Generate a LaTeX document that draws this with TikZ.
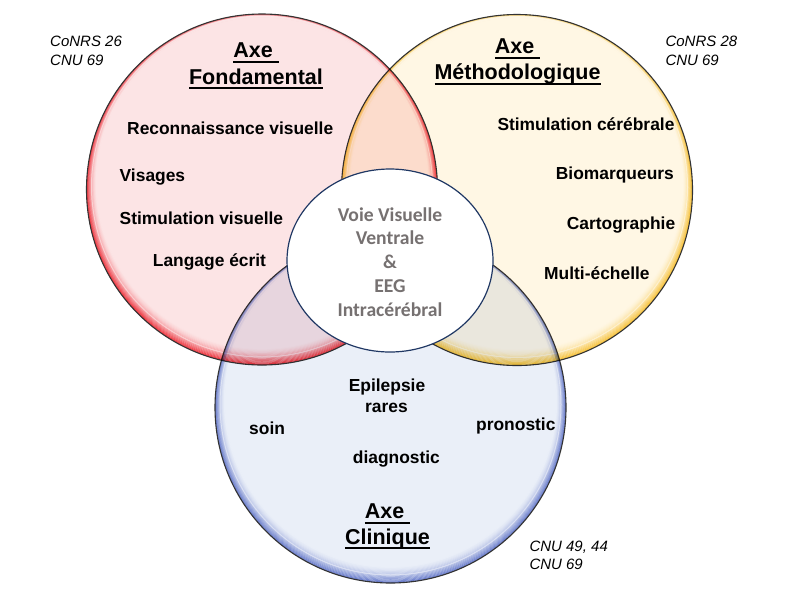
\documentclass[tikz,border=0pt]{standalone}
\usepackage{fontspec}
\setmainfont{Liberation Sans}
\newfontfamily\calfont{Carlito}
\usetikzlibrary{shapes.geometric}
\definecolor{redfill}{RGB}{252,228,229}
\definecolor{redrim}{RGB}{236,40,50}
\definecolor{yelfill}{RGB}{255,247,228}
\definecolor{yelrim}{RGB}{246,190,45}
\definecolor{blufill}{RGB}{234,239,248}
\definecolor{blurim}{RGB}{95,115,200}
\definecolor{navyline}{RGB}{32,56,100}
\definecolor{centgray}{RGB}{118,113,113}
\newcommand\ulbox[1]{\setbox0=\hbox{#1}\rlap{\rule[-5.2pt]{\wd0}{1.9pt}}\box0}
\newcommand\vennring[4]{%
 \begin{scope}[blend mode=multiply]
 \begin{scope}[transparency group]
  \begin{scope}
   \clip (#1,#2) circle[radius=175.5];
   \fill[#3] (#1,#2) circle[radius=176];
   \foreach \j in {0,...,19} {
     \pgfmathsetmacro\dd{0.5*\j}
     \pgfmathtruncatemacro\pc{100*(1-\j/20)^1.7}
     \draw[line width=0.9, #4!\pc!#3] (#1,#2-0.7*\dd) circle[radius=175.2-\dd];
   }
   \draw[white, opacity=0.45, line width=1] (#1,#2-3) circle[radius=170.5];
  \end{scope}
  \draw[line width=1.1, black!80] (#1,#2) circle[radius=175.5];
 \end{scope}
 \end{scope}}
\tikzset{
 lbl/.style={inner sep=0pt, anchor=base west, font=\fontsize{17.4}{20}\selectfont\bfseries},
 lblc/.style={inner sep=0pt, anchor=base, font=\fontsize{17.4}{20}\selectfont\bfseries},
 ttl/.style={inner sep=0pt, anchor=base, font=\fontsize{21.5}{25}\selectfont\bfseries},
 cnrs/.style={inner sep=0pt, anchor=base west, font=\fontsize{15}{18.5}\selectfont\itshape},
 centre/.style={draw=navyline, line width=1.2, fill=white, ellipse, minimum width=206, minimum height=183, inner sep=0pt},
}
\begin{document}
\begin{tikzpicture}[x=1pt,y=-1pt]
\path (0,0) rectangle (789,595);
\vennring{517}{190}{yelfill}{yelrim}
\vennring{262}{189.5}{redfill}{redrim}
\vennring{390.5}{407.5}{blufill}{blurim}
\node[centre] (c) at (390,260.5) {};
\node[align=center, inner sep=0pt, text=centgray, font=\calfont\fontsize{19.6}{23.9}\selectfont\bfseries] (ct) at (390,262) {Voie Visuelle\\Ventrale\\\&\\EEG\\Intracérébral};
% red
\node[cnrs] (r1) at (50,46.7) {CoNRS 26};
\node[cnrs] (r2) at (50,65.3) {CNU 69};
\node[ttl] (rt1) at (256,57.3) {\ulbox{Axe\ }};
\node[ttl] (rt2) at (256,84) {\ulbox{Fondamental}};
\node[lbl] (ra) at (127,134) {Reconnaissance visuelle};
\node[lbl] (rb) at (119.5,181.7) {Visages};
\node[lbl] (rc) at (119.5,224) {Stimulation visuelle};
\node[lbl] (rd) at (152.7,266.7) {Langage écrit};
% yellow
\node[cnrs] (y1) at (665.3,46.7) {CoNRS 28};
\node[cnrs] (y2) at (665.3,65.3) {CNU 69};
\node[ttl] (yt1) at (517.5,53.3) {\ulbox{Axe\ }};
\node[ttl] (yt2) at (517.5,79.3) {\ulbox{Méthodologique}};
\node[lbl] (ya) at (497.3,130.7) {Stimulation cérébrale};
\node[lbl] (yb) at (555.7,179) {Biomarqueurs};
\node[lbl] (yc) at (566.7,229.3) {Cartographie};
\node[lbl] (yd) at (544,279.3) {Multi-échelle};
% blue
\node[lblc] (ba) at (387,391.7) {Epilepsie};
\node[lblc] (bb) at (386.5,412.7) {rares};
\node[lbl] (bc) at (249,434) {soin};
\node[lbl] (bd) at (476,430) {pronostic};
\node[lbl] (be) at (352.7,463.3) {diagnostic};
\node[ttl] (bt1) at (387.5,518.3) {\ulbox{Axe\ }};
\node[ttl] (bt2) at (387.5,544) {\ulbox{Clinique}};
\node[cnrs] (b1) at (529.3,551.7) {CNU 49, 44};
\node[cnrs] (b2) at (529.3,569.3) {CNU 69};
\end{tikzpicture}
\end{document}
